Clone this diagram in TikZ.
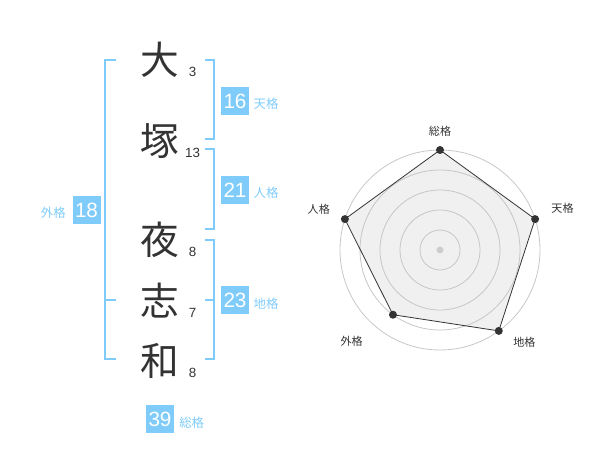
\documentclass[tikz,border=0pt]{standalone}
\usepackage{fontspec}
\setmainfont{Liberation Sans}
\newfontfamily\jpfont{Noto Sans CJK JP}
\usetikzlibrary{positioning}
\definecolor{kakublue}{RGB}{127,204,250}
\definecolor{inkgrey}{RGB}{51,51,51}

\begin{document}
\begin{tikzpicture}[x=0.75pt,y=-0.75pt,node distance=1cm,on grid,
    kanji/.style={font=\jpfont\fontsize{29}{29}\selectfont,text=inkgrey,inner sep=0pt},
    strokes/.style={font=\fontsize{10}{10}\selectfont,text=inkgrey,inner sep=0pt},
    numbox/.style={fill=kakublue,text=white,minimum size=21pt,inner sep=0pt,
                   font=\fontsize{15.5}{15.5}\selectfont},
    kaku/.style={text=kakublue,font=\jpfont\fontsize{9.3}{9.3}\selectfont,inner sep=0pt},
    brace/.style={draw=kakublue,line width=1.5pt},
    axislabel/.style={text=inkgrey,font=\jpfont\fontsize{8.3}{8.3}\selectfont,inner sep=0pt},
    ring/.style={draw=black!22,line width=0.6pt}]
   \useasboundingbox (0,0) rectangle (600,470);

   % name, one character per node
   \node[kanji] (k1) at (160,60) {大};
   \node[kanji] (k2) [below=60.75pt of k1] {塚};
   \node[kanji] (k3) [below=74.25pt of k2] {夜};
   \node[kanji] (k4) [below=45.75pt of k3] {志};
   \node[kanji] (k5) [below=45pt of k4] {和};
   \foreach \i/\s in {1/3,2/13,3/8,4/7,5/8}
     \node[strokes] (s\i) [below right=9.2pt and 24.4pt of k\i] {\s};

   % brackets
   \draw[brace] (116,60) -- (105,60) -- (105,359) -- (116,359);
   \draw[brace] (105,300) -- (116,300);
   \draw[brace] (205,60) -| (214,139) -- (205,139);
   \draw[brace] (205,149) -| (214,229) -- (205,229);
   \draw[brace] (205,240) -| (214,359) -- (205,359);
   \draw[brace] (205,300) -- (214,300);

   % the five kaku
   \node[numbox] (ten) at (235,101) {16};
   \node[numbox] (jin) at (235,190) {21};
   \node[numbox] (chi) at (235,300) {23};
   \node[numbox] (gai) at (86.5,210) {18};
   \node[numbox] (sou) at (160,419) {39};
   \node[kaku] [below right=2.3pt and 23.25pt of ten] {天格};
   \node[kaku] [below right=2.3pt and 23.25pt of jin] {人格};
   \node[kaku] [below right=2.8pt and 23.25pt of chi] {地格};
   \node[kaku] [below left=2.4pt and 24.9pt of gai] {外格};
   \node[kaku] [below right=2.7pt and 23.8pt of sou] {総格};

   % radar chart
   \coordinate (c) at (440,250);
   \foreach \a/\r/\la/\lr/\n [count=\i] in {90/75/90/89/総格,18/75/18.7/97/天格,
       -54/75/-47.7/94/地格,-126/60/-133.9/95.5/外格,162/75/161.3/96/人格} {
     \path (c) ++(\a:\r pt) coordinate (p\i);
     \path (c) ++(\la:\lr pt) node[axislabel] (l\i) {\n};
   }
   \fill[black!6] (p1) -- (p2) -- (p3) -- (p4) -- (p5) -- cycle;
   \foreach \r in {15,30,45,60,75}
     \draw[ring] (c) circle[radius=\r pt];
   \draw[inkgrey,line width=0.6pt] (p1) -- (p2) -- (p3) -- (p4) -- (p5) -- cycle;
   \foreach \i in {1,...,5}
     \fill[inkgrey] (p\i) circle[radius=3pt];
   \fill[black!20] (c) circle[radius=2.6pt];
\end{tikzpicture}
\end{document}
